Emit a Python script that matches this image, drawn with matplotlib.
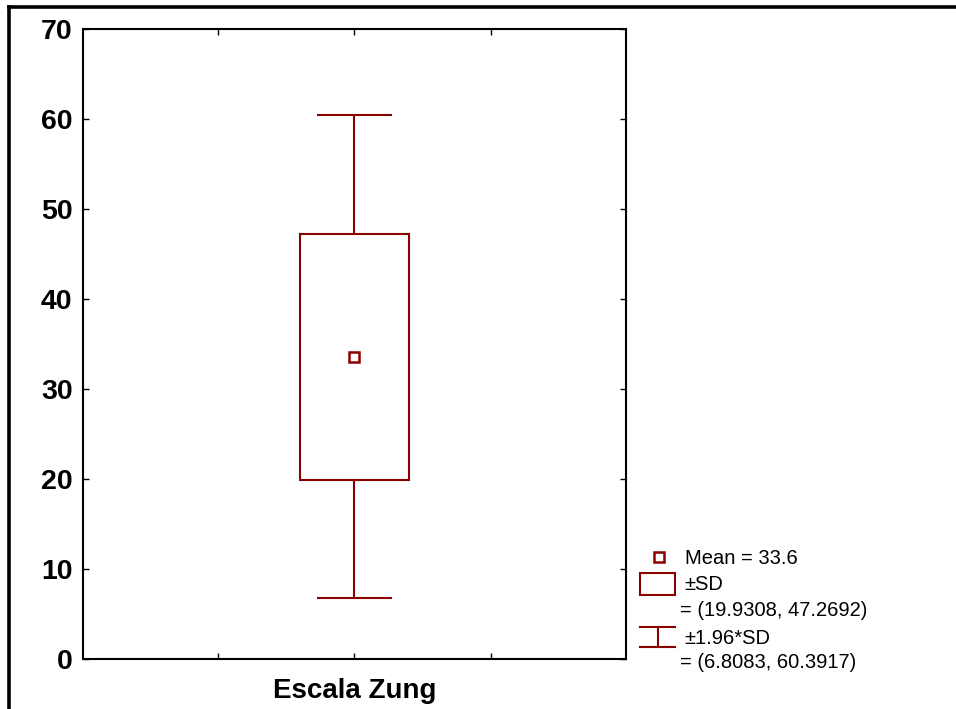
import matplotlib
matplotlib.use("Agg")
import matplotlib.pyplot as plt
from matplotlib.patches import Rectangle
from matplotlib.lines import Line2D

plt.rcParams["font.family"] = ["Liberation Sans", "DejaVu Sans"]

# data
categories = ["Escala Zung"]
means = [33.6]
sd_low = [19.9308]
sd_high = [47.2692]
ci_low = [6.8083]
ci_high = [60.3917]
yticks = [0, 10, 20, 30, 40, 50, 60, 70]

RED = "#8B0000"

fig = plt.figure(figsize=(9.56, 7.09), dpi=100)
ax = fig.add_axes([83 / 956, 50 / 709, (626 - 83) / 956, (659 - 29) / 709])

box_w = 0.795
cap_w = 0.545
for i, cat in enumerate(categories):
    ax.vlines(i, ci_low[i], sd_low[i], color=RED, lw=1.5)
    ax.vlines(i, sd_high[i], ci_high[i], color=RED, lw=1.5)
    ax.hlines([ci_low[i], ci_high[i]], i - cap_w / 2, i + cap_w / 2, color=RED, lw=1.5)
    ax.add_patch(Rectangle((i - box_w / 2, sd_low[i]), box_w, sd_high[i] - sd_low[i],
                           fill=False, edgecolor=RED, lw=1.5))
    ax.plot(i, means[i], marker="s", ms=7, mfc="white", mec=RED, mew=1.8)

ax.set_xlim(-1.99, 1.99)
ax.set_ylim(0, 70)
ax.set_xticks([-1, 0, 1])
ax.set_xticklabels(["", categories[0], ""], fontsize=20, fontweight="bold")
ax.set_yticks(yticks)
ax.set_yticklabels([str(v) for v in yticks], fontsize=20.5, fontweight="bold")
ax.tick_params(direction="in", length=4, width=1, top=True, right=True, pad=7.5)
ax.tick_params(axis="x", pad=14)
for s in ax.spines.values():
    s.set_linewidth(1.5)

# outer frame
fig.add_artist(Line2D([9 / 956, 9 / 956], [0, 1 - 7 / 709], color="black", lw=2.6,
                      transform=fig.transFigure))
fig.add_artist(Line2D([9 / 956, 1], [1 - 7 / 709, 1 - 7 / 709], color="black", lw=2.6,
                      transform=fig.transFigure))

# legend
def fx(px):
    return px / 956

def fy(py):
    return 1 - py / 709

fig.add_artist(Line2D([fx(659)], [fy(557)], marker="s", ms=7, mfc="white", mec=RED,
                      mew=1.8, transform=fig.transFigure))
fig.text(fx(685), fy(558), f"Mean = {means[0]}", fontsize=14.5, va="center")
fig.add_artist(Rectangle((fx(640), fy(595)), fx(675) - fx(640), fy(573) - fy(595),
                         fill=False, edgecolor=RED, lw=1.5, transform=fig.transFigure))
fig.text(fx(684), fy(585), "±SD", fontsize=14.5, va="center")
fig.text(fx(680), fy(610), f"= ({sd_low[0]:.4f}, {sd_high[0]:.4f})", fontsize=14.5, va="center")
for yy in (627, 647):
    fig.add_artist(Line2D([fx(640), fx(675)], [fy(yy), fy(yy)], color=RED, lw=1.5,
                          transform=fig.transFigure))
fig.add_artist(Line2D([fx(657.5), fx(657.5)], [fy(627), fy(647)], color=RED, lw=1.5,
                      transform=fig.transFigure))
fig.text(fx(684), fy(638), "±1.96*SD", fontsize=14.5, va="center")
fig.text(fx(680), fy(663), f"= ({ci_low[0]:.4f}, {ci_high[0]:.4f})", fontsize=14.5, va="center")

fig.savefig("out.png", dpi=100, facecolor="white")
